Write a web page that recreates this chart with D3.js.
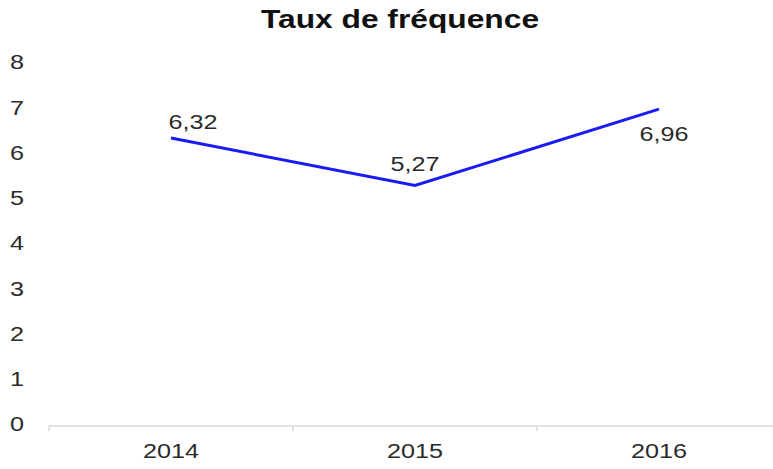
<!DOCTYPE html>
<html lang="fr">
<head>
<meta charset="UTF-8">
<title>Taux de fréquence</title>
<style>
    body { margin: 0; background: #fff; }
    svg text { font-family: "Liberation Sans", Arial, sans-serif; fill: #2b2b2b; }
    .title { font-weight: bold; font-size: 25px; fill: #111; }
    .tick-label { font-size: 21px; }
    .value-label { font-size: 21px; }
</style>
</head>
<body>
<svg id="chart"></svg>
<script src="https://cdnjs.cloudflare.com/ajax/libs/d3/7.9.0/d3.min.js"></script>
<script>
    // data
    const years = ["2014", "2015", "2016"];
    const taux = [6.32, 5.27, 6.96];
    const valueLabels = ["6,32", "5,27", "6,96"];
    const yTicks = [0, 1, 2, 3, 4, 5, 6, 7, 8];

    const w = 773, h = 469;
    const margin = { top: 62, right: 0, bottom: 45, left: 49 };
    // the source image is a bit stretched sideways
    const stretch = 1.2;

    const svg = d3.select("#chart").attr("width", w).attr("height", h);

    const x = d3.scaleBand()
        .domain(years)
        .range([margin.left, margin.left + 3 * 244]);

    const y = d3.scaleLinear()
        .domain([0, 8])
        .range([h - margin.bottom, margin.top]);

    const place = (px, py, s) => `translate(${px},${py}) scale(${s},1)`;

    // title
    svg.append("text")
        .attr("class", "title")
        .attr("transform", place(400, 28, 1.27))
        .attr("text-anchor", "middle")
        .text("Taux de fréquence");

    // y labels (no axis line)
    svg.selectAll(".ylab")
        .data(yTicks)
        .enter()
        .append("text")
        .attr("class", "tick-label")
        .attr("transform", d => place(24, y(d), stretch))
        .attr("dy", "0.35em")
        .attr("text-anchor", "end")
        .text(d => d);

    // x axis
    const xAxis = svg.append("g")
        .attr("transform", `translate(0,${y(0) + 2})`);

    xAxis.append("line")
        .attr("x1", margin.left)
        .attr("x2", w)
        .attr("stroke", "#d9d9d9")
        .attr("stroke-width", 1.5);

    xAxis.selectAll(".xtick")
        .data(years)
        .enter()
        .append("line")
        .attr("x1", d => x(d))
        .attr("x2", d => x(d))
        .attr("y1", 0)
        .attr("y2", 5)
        .attr("stroke", "#d9d9d9")
        .attr("stroke-width", 1.5);

    xAxis.selectAll(".xlab")
        .data(years)
        .enter()
        .append("text")
        .attr("class", "tick-label")
        .attr("transform", d => place(x(d) + x.bandwidth() / 2, 32, stretch))
        .attr("text-anchor", "middle")
        .text(d => d);

    // line
    const line = d3.line()
        .x((d, i) => x(years[i]) + x.bandwidth() / 2)
        .y(d => y(d));

    svg.append("path")
        .datum(taux)
        .attr("fill", "none")
        .attr("stroke", "#1a1af5")
        .attr("stroke-width", 3)
        .attr("d", line);

    // value labels, offsets tuned per point like the original
    const labelOffset = [[22, -16], [0, -22], [5, 25]];
    svg.selectAll(".value-label")
        .data(taux)
        .enter()
        .append("text")
        .attr("class", "value-label")
        .attr("transform", (d, i) => place(x(years[i]) + x.bandwidth() / 2 + labelOffset[i][0], y(d) + labelOffset[i][1], stretch))
        .attr("dy", "0.35em")
        .attr("text-anchor", "middle")
        .text((d, i) => valueLabels[i]);
</script>
</body>
</html>
